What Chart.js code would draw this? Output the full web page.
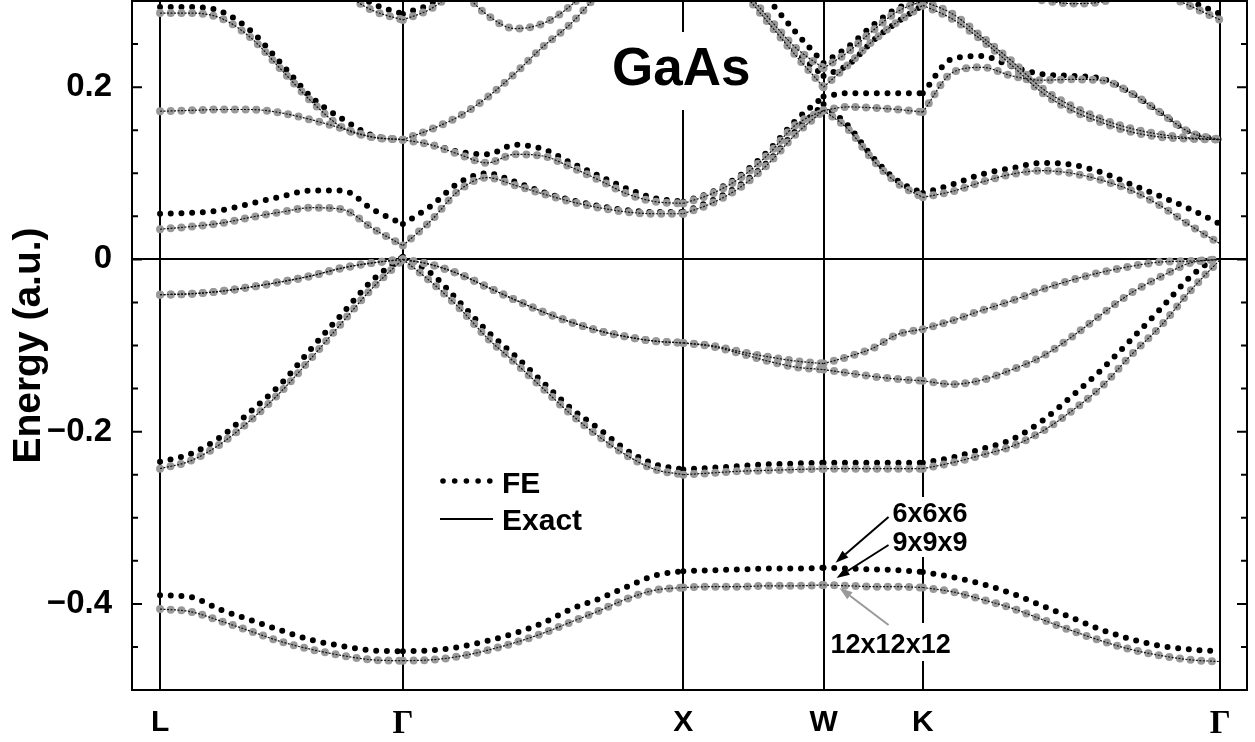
<!DOCTYPE html>
<html>
<head>
<meta charset="utf-8">
<script src="https://cdn.jsdelivr.net/npm/chart.js@4.4.0/dist/chart.umd.min.js"></script>
<style>
  html, body { margin: 0; padding: 0; background: #fff; }
  #wrap { width: 1255px; height: 742px; }
</style>
</head>
<body>
<div id="wrap"><canvas id="bands"></canvas></div>
<script>
// high symmetry points along the path
const kNodes = [0, 0.866, 1.866, 2.366, 2.720, 3.781];
const kLabels = ['L', 'Γ', 'X', 'W', 'K', 'Γ'];

// k points where the bands were read
const kPoints = [
  0, 0.108, 0.217, 0.325, 0.433, 0.541, 0.650, 0.758, 0.866,
  0.966, 1.066, 1.166, 1.266, 1.366, 1.466, 1.566, 1.666, 1.766, 1.866,
  1.966, 2.066, 2.166, 2.266, 2.366,
  2.454, 2.543, 2.631, 2.720,
  2.826, 2.932, 3.038, 3.144, 3.251, 3.357, 3.463, 3.569, 3.675, 3.781
];
// index of each node in kPoints (segments L-G, G-X, X-W, W-K, K-G)
const segBounds = [0, 8, 18, 23, 27, 37];

const yTickValues = [-0.5, -0.45, -0.4, -0.35, -0.3, -0.25, -0.2, -0.15, -0.1, -0.05, 0, 0.05, 0.1, 0.15, 0.2, 0.25, 0.3];
const yLabelValues = [0.2, 0, -0.2, -0.4];
const yLabelText = ['0.2', '0', '−0.2', '−0.4'];

// exact bands (12x12x12 FE points sit on these)
const band1 = [
  -0.406, -0.409, -0.420, -0.432, -0.444, -0.453, -0.460, -0.465, -0.466,
  -0.465, -0.461, -0.454, -0.445, -0.434, -0.421, -0.408, -0.394, -0.384, -0.381,
  -0.380, -0.380, -0.379, -0.379, -0.378,
  -0.379, -0.380, -0.380, -0.381,
  -0.386, -0.395, -0.405, -0.418, -0.431, -0.443, -0.453, -0.460, -0.465, -0.467
];
const band2 = [
  -0.243, -0.234, -0.214, -0.186, -0.153, -0.114, -0.073, -0.033, 0,
  -0.026, -0.056, -0.091, -0.120, -0.150, -0.180, -0.206, -0.228, -0.244, -0.250,
  -0.248, -0.246, -0.245, -0.244, -0.243,
  -0.243, -0.243, -0.243, -0.243,
  -0.236, -0.227, -0.217, -0.200, -0.176, -0.148, -0.111, -0.077, -0.036, 0
];
const band3 = [
  -0.041, -0.040, -0.037, -0.032, -0.026, -0.019, -0.010, -0.004, 0,
  -0.006, -0.017, -0.032, -0.047, -0.061, -0.073, -0.083, -0.090, -0.095, -0.097,
  -0.101, -0.109, -0.118, -0.125, -0.128,
  -0.132, -0.136, -0.139, -0.141,
  -0.145, -0.140, -0.128, -0.113, -0.090, -0.064, -0.039, -0.020, -0.004, 0
];
const band4 = [
  -0.041, -0.040, -0.037, -0.032, -0.026, -0.019, -0.010, -0.004, 0,
  -0.006, -0.017, -0.032, -0.047, -0.061, -0.073, -0.083, -0.090, -0.095, -0.097,
  -0.100, -0.107, -0.113, -0.118, -0.121,
  -0.113, -0.103, -0.087, -0.081,
  -0.071, -0.059, -0.048, -0.035, -0.024, -0.015, -0.008, -0.003, -0.002, 0
];
const band5 = [
  0.035, 0.038, 0.042, 0.049, 0.055, 0.060, 0.058, 0.036, 0.016,
  0.045, 0.080, 0.095, 0.086, 0.076, 0.067, 0.060, 0.055, 0.053, 0.053,
  0.065, 0.083, 0.110, 0.145, 0.173,
  0.151, 0.115, 0.088, 0.072,
  0.079, 0.090, 0.099, 0.103, 0.100, 0.092, 0.080, 0.062, 0.039, 0.018
];
const band6 = [
  0.172, 0.173, 0.174, 0.174, 0.170, 0.162, 0.152, 0.142, 0.139,
  0.133, 0.122, 0.112, 0.122, 0.120, 0.107, 0.092, 0.076, 0.067, 0.065,
  0.076, 0.094, 0.121, 0.156, 0.173,
  0.177, 0.176, 0.174, 0.171,
  0.217, 0.223, 0.213, 0.208, 0.209, 0.208, 0.193, 0.170, 0.147, 0.139
];
const band7 = [
  0.286, 0.286, 0.280, 0.257, 0.220, 0.183, 0.153, 0.142, 0.139,
  0.151, 0.166, 0.188, 0.216, 0.247, 0.274, 0.310, null, null, null,
  null, 0.315, 0.276, 0.237, 0.200,
  0.226, 0.254, 0.276, 0.295,
  0.279, 0.254, 0.225, 0.194, 0.173, 0.159, 0.148, 0.142, 0.140, 0.139
];
const band8 = [
  null, null, null, null, null, null, 0.310, 0.289, 0.278,
  0.291, 0.315, null, null, null, null, null, null, null, null,
  null, 0.320, 0.282, 0.246, 0.222,
  0.241, 0.266, 0.288, 0.300,
  0.285, 0.258, 0.230, 0.199, 0.178, 0.163, 0.152, 0.145, 0.141, 0.139
];
const band9 = [
  null, null, null, null, null, null, null, null, null,
  null, 0.315, 0.284, 0.268, 0.274, 0.295, 0.330, null, null, null,
  null, null, null, null, null,
  null, null, null, null,
  null, null, null, 0.301, 0.297, 0.299, 0.310, null, null, null
];
const band10 = [
  null, null, null, null, null, null, null, null, null,
  null, null, null, null, null, null, null, null, null, null,
  null, null, null, null, null,
  null, null, null, null,
  null, null, null, null, null, null, null, 0.310, 0.294, 0.278
];

// FE 6x6x6 points (black), where they differ from the exact bands
const band1Fe6 = [
  -0.390, -0.392, -0.407, -0.419, -0.431, -0.442, -0.449, -0.454, -0.455,
  -0.454, -0.450, -0.443, -0.434, -0.422, -0.406, -0.394, -0.380, -0.367, -0.362,
  -0.361, -0.360, -0.359, -0.359, -0.358,
  -0.359, -0.360, -0.361, -0.363,
  -0.369, -0.377, -0.388, -0.402, -0.416, -0.430, -0.441, -0.449, -0.453, -0.455
];
const band2Fe6 = [
  -0.235, -0.226, -0.206, -0.176, -0.144, -0.103, -0.063, -0.024, 0.003,
  -0.016, -0.049, -0.083, -0.112, -0.143, -0.173, -0.197, -0.222, -0.238, -0.244,
  -0.242, -0.240, -0.238, -0.237, -0.236,
  -0.236, -0.236, -0.236, -0.236,
  -0.230, -0.220, -0.209, -0.188, -0.159, -0.128, -0.093, -0.057, -0.020, 0.006
];
const band5Fe6 = [
  0.053, 0.054, 0.057, 0.065, 0.073, 0.080, 0.080, 0.058, 0.041,
  0.062, 0.089, 0.100, 0.090, 0.078, 0.069, 0.062, 0.057, 0.055, 0.055,
  0.068, 0.086, 0.113, 0.149, 0.180,
  0.155, 0.118, 0.091, 0.077,
  0.087, 0.099, 0.106, 0.112, 0.110, 0.101, 0.087, 0.073, 0.058, 0.041
];
const band6Fe6 = [
  0.172, 0.173, 0.174, 0.174, 0.170, 0.162, 0.152, 0.142, 0.139,
  0.134, 0.125, 0.122, 0.133, 0.128, 0.112, 0.097, 0.082, 0.071, 0.067,
  0.078, 0.097, 0.125, 0.161, 0.189,
  0.193, 0.193, 0.193, 0.193,
  0.233, 0.236, 0.224, 0.215, 0.213, 0.210, 0.193, 0.170, 0.147, 0.139
];
const band7Fe6 = [
  0.293, 0.293, 0.288, 0.265, 0.227, 0.188, 0.163, 0.144, 0.139,
  0.151, 0.166, 0.188, 0.216, 0.247, 0.274, 0.310, null, null, null,
  null, 0.320, 0.280, 0.242, 0.213,
  0.226, 0.254, 0.276, 0.295,
  0.279, 0.254, 0.225, 0.194, 0.173, 0.159, 0.148, 0.142, 0.140, 0.139
];
const band8Fe6 = [
  null, null, null, null, null, null, 0.320, 0.297, 0.285,
  0.297, 0.320, null, null, null, null, null, null, null, null,
  null, 0.340, 0.303, 0.264, 0.228,
  0.247, 0.272, 0.292, 0.300,
  0.285, 0.258, 0.230, 0.199, 0.178, 0.163, 0.152, 0.145, 0.141, 0.139
];
const band10Fe6 = [
  null, null, null, null, null, null, null, null, null,
  null, null, null, null, null, null, null, null, null, null,
  null, null, null, null, null,
  null, null, null, null,
  null, null, null, null, null, null, null, 0.320, 0.300, 0.285
];

const exactBands = [band1, band2, band3, band4, band5, band6, band7, band8, band9, band10];
const fe6Bands = [band1Fe6, band2Fe6, band5Fe6, band6Fe6, band7Fe6, band8Fe6, band10Fe6];

const fe6Style = { borderColor: '#000', borderWidth: 6, borderDash: [0, 10.7], borderCapStyle: 'round' };
const fe12Style = { borderColor: '#999999', borderWidth: 8, borderDash: [0, 10.7], borderCapStyle: 'round' };
const exactStyle = { borderColor: '#111', borderWidth: 1.2, borderDash: [2, 1.5] };

const datasets = [];
// one dataset per path segment, so the kinks at the nodes stay sharp
function addSeries(arr, style, order) {
  for (let s = 0; s < segBounds.length - 1; s++) {
    const pts = [];
    for (let i = segBounds[s]; i <= segBounds[s + 1]; i++) {
      pts.push({ x: kPoints[i], y: arr[i] });
    }
    if (pts.every(p => p.y === null)) continue;
    datasets.push(Object.assign({
      data: pts, order: order, pointRadius: 0, fill: false,
      spanGaps: false, cubicInterpolationMode: 'monotone'
    }, style));
  }
}
fe6Bands.forEach(b => addSeries(b, fe6Style, 3));
exactBands.forEach(b => addSeries(b, fe12Style, 2));
exactBands.forEach(b => addSeries(b, exactStyle, 1));

function isLabelled(v) {
  return yLabelValues.some(t => Math.abs(t - v) < 1e-9);
}

function arrow(ctx, x1, y1, x2, y2, color) {
  const ang = Math.atan2(y2 - y1, x2 - x1);
  const hl = 13, hw = 4.5;
  ctx.strokeStyle = color;
  ctx.fillStyle = color;
  ctx.lineWidth = 2;
  ctx.beginPath();
  ctx.moveTo(x1, y1);
  ctx.lineTo(x2 - hl * Math.cos(ang), y2 - hl * Math.sin(ang));
  ctx.stroke();
  ctx.beginPath();
  ctx.moveTo(x2, y2);
  ctx.lineTo(x2 - hl * Math.cos(ang) + hw * Math.sin(ang), y2 - hl * Math.sin(ang) - hw * Math.cos(ang));
  ctx.lineTo(x2 - hl * Math.cos(ang) - hw * Math.sin(ang), y2 - hl * Math.sin(ang) + hw * Math.cos(ang));
  ctx.closePath();
  ctx.fill();
}

const notesPlugin = {
  id: 'notes',
  afterDraw(chart) {
    const { ctx, chartArea: a } = chart;
    const x = chart.scales.x, y = chart.scales.y;
    ctx.save();

    // frame and inward ticks
    ctx.strokeStyle = '#000';
    ctx.lineWidth = 2;
    ctx.strokeRect(a.left, a.top, a.right - a.left, a.bottom - a.top);
    yTickValues.forEach(v => {
      const py = y.getPixelForValue(v);
      const len = isLabelled(v) ? 10 : 6;
      ctx.beginPath();
      ctx.moveTo(a.left, py); ctx.lineTo(a.left + len, py);
      ctx.moveTo(a.right, py); ctx.lineTo(a.right - len, py);
      ctx.stroke();
    });

    // title box
    ctx.fillStyle = '#fff';
    ctx.fillRect(605, 32, 152, 78);
    ctx.fillStyle = '#000';
    ctx.font = 'bold 53px "Liberation Sans", Arial, sans-serif';
    ctx.textAlign = 'left';
    ctx.textBaseline = 'alphabetic';
    ctx.fillText('GaAs', 612, 85);

    // legend
    ctx.fillStyle = '#000';
    for (let j = 0; j < 5; j++) {
      ctx.beginPath();
      ctx.arc(443 + j * 11.7, 481, 2.8, 0, Math.PI * 2);
      ctx.fill();
    }
    ctx.lineWidth = 2;
    ctx.beginPath();
    ctx.moveTo(440, 519); ctx.lineTo(493, 519);
    ctx.stroke();
    ctx.font = 'bold 30px "Liberation Sans", Arial, sans-serif';
    ctx.fillText('FE', 502, 493);
    ctx.fillText('Exact', 502, 530);

    // mesh labels near W
    const xW = x.getPixelForValue(kNodes[3]);
    const yFe6 = y.getPixelForValue(band1Fe6[23]);
    const yEx = y.getPixelForValue(band1[23]);
    ctx.fillStyle = '#fff';
    ctx.fillRect(xW + 64, 497, 86, 60);
    ctx.fillRect(xW + 4, 623, 134, 38);
    ctx.fillStyle = '#000';
    ctx.font = 'bold 27px "Liberation Sans", Arial, sans-serif';
    ctx.fillText('6x6x6', xW + 69, 522);
    ctx.fillText('9x9x9', xW + 69, 551);
    ctx.fillText('12x12x12', xW + 7, 653);
    arrow(ctx, xW + 65, 517, xW + 12, yFe6 - 5, '#000');
    arrow(ctx, xW + 65, 545, xW + 13, yEx - 7, '#000');
    arrow(ctx, xW + 65, 625, xW + 16, yEx + 3, '#999');

    ctx.restore();
  }
};

new Chart(document.getElementById('bands'), {
  type: 'line',
  data: { datasets: datasets },
  options: {
    responsive: true,
    maintainAspectRatio: false,
    animation: false,
    events: [],
    layout: { padding: { top: 1, right: 8, left: 0, bottom: 0 } },
    plugins: { legend: { display: false }, tooltip: { enabled: false } },
    scales: {
      x: {
        type: 'linear',
        min: -0.1,
        max: 3.876,
        afterBuildTicks: s => { s.ticks = kNodes.map(v => ({ value: v })); },
        afterFit: s => { s.height = 52; s.paddingLeft = 0; s.paddingRight = 0; },
        ticks: {
          autoSkip: false,
          maxRotation: 0,
          padding: 15,
          color: '#000',
          callback: (v, i) => kLabels[i],
          font: c => (kLabels[c.index] === 'Γ'
            ? { family: '"Liberation Serif", serif', size: 33, weight: 'bold' }
            : { family: '"Liberation Sans", Arial, sans-serif', size: 30, weight: 'bold' })
        },
        grid: { color: '#000', lineWidth: 2, drawTicks: false },
        border: { color: '#000', width: 2 }
      },
      y: {
        type: 'linear',
        min: -0.5,
        max: 0.3,
        afterBuildTicks: s => { s.ticks = yTickValues.map(v => ({ value: v })); },
        afterFit: s => { s.width = 132; s.paddingTop = 0; s.paddingBottom = 0; },
        ticks: {
          autoSkip: false,
          padding: 20,
          color: '#000',
          font: { family: '"Liberation Sans", Arial, sans-serif', size: 33, weight: 'bold' },
          callback: v => {
            const j = yLabelValues.findIndex(t => Math.abs(t - v) < 1e-9);
            return j >= 0 ? yLabelText[j] : '';
          }
        },
        grid: {
          drawTicks: false,
          lineWidth: 2,
          color: c => (c.tick && Math.abs(c.tick.value) < 1e-9 ? '#000' : 'rgba(0,0,0,0)')
        },
        border: { color: '#000', width: 2 },
        title: {
          display: true,
          text: 'Energy (a.u.)',
          color: '#000',
          font: { family: '"Liberation Sans", Arial, sans-serif', size: 39, weight: 'bold' },
          padding: { top: 6, bottom: 0 }
        }
      }
    }
  },
  plugins: [notesPlugin]
});
</script>
</body>
</html>
